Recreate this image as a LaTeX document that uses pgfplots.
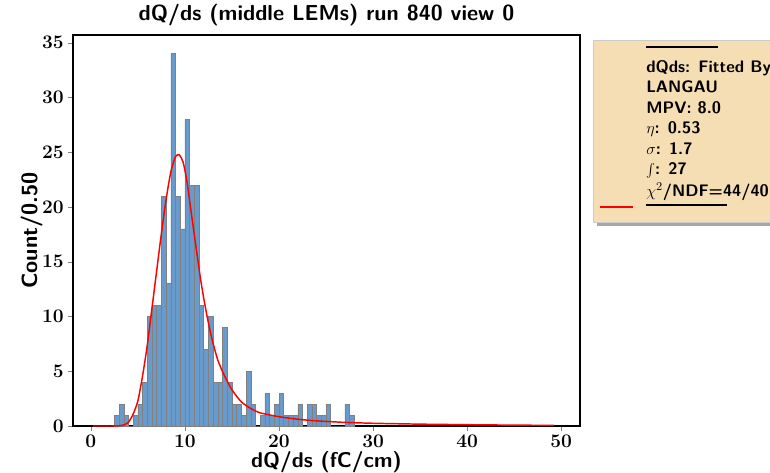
\documentclass[border=0pt]{standalone}
\usepackage{pgfplots}
\pgfplotsset{compat=1.18}
\definecolor{barfill}{RGB}{104,155,204}
\definecolor{baredge}{RGB}{128,128,128}
\definecolor{legfill}{RGB}{245,222,179}
\begin{document}
\begin{tikzpicture}
\begin{axis}[
  at={(54.75pt,34.5pt)}, anchor=south west,
  scale only axis, width=380.25pt, height=293.25pt,
  xmin=-1.9, xmax=52, ymin=0, ymax=35.7,
  xtick={0,10,20,30,40,50}, ytick={0,5,10,15,20,25,30,35},
  tick align=outside, xtick pos=bottom, ytick pos=left,
  major tick length=3.5pt,
  axis line style={black, line width=0.8pt},
  ticklabel style={font=\boldmath\fontsize{13.5}{15}\selectfont},
  title={dQ/ds (middle LEMs) run 840 view 0},
  title style={font=\sffamily\bfseries\fontsize{16.3}{18}\selectfont, at={(0.5,1)}, anchor=south, yshift=-3pt},
  xlabel={dQ/ds (fC/cm)},
  xlabel style={font=\sffamily\bfseries\fontsize{16}{18}\selectfont, at={(axis description cs:0.5,0)}, anchor=north, yshift=-15.5pt},
  ylabel={Count/0.50},
  ylabel style={font=\sffamily\bfseries\fontsize{16.5}{18}\selectfont, at={(axis description cs:0,0.5)}, anchor=south, inner sep=0pt, yshift=22.5pt},
]
\addplot[ybar interval, fill=barfill, draw=baredge, line width=0.4pt] coordinates {
(2.5,1)(3.0,2)(3.5,1)(4.0,0)(4.5,1)(5.0,2)(5.5,4)(6.0,10)(6.5,11)(7.0,11)
(7.5,21)(8.0,13)(8.5,34)(9.0,21)(9.5,18)(10.0,28)(10.5,22)(11.0,22)(11.5,11)(12.0,7)
(12.5,10)(13.0,4)(13.5,4)(14.0,9)(14.5,4)(15.0,2)(15.5,2)(16.0,1)(16.5,5)(17.0,2)
(17.5,0)(18.0,1)(18.5,3)(19.0,1)(19.5,2)(20.0,3)(20.5,1)(21.0,1)(21.5,1)(22.0,2)
(22.5,0)(23.0,2)(23.5,2)(24.0,1)(24.5,1)(25.0,2)(25.5,0)(26.0,0)(26.5,0)(27.0,2)
(27.5,1)(28.0,1)
};
\addplot[red, line width=1.1pt, smooth, tension=0.4, mark=none] coordinates {
(0.25,0)(1,0)(2,0.0)(3,0.02)(3.5,0.1)(4,0.35)(4.5,1.1)(5,2.3)(5.5,4.6)(6,7.4)
(6.5,10.8)(7,14.2)(7.5,17.6)(8,20.7)(8.5,23.2)(9,24.6)(9.4,24.75)(9.8,24.1)(10.2,22.4)
(10.7,19.3)(11.2,16.2)(11.7,13.2)(12.2,10.7)(12.8,8.2)(13.5,6.0)(14.2,4.6)(15,3.3)
(16,2.2)(17,1.6)(18,1.2)(20,0.85)(22,0.62)(24,0.47)(27,0.33)(30,0.25)(35,0.17)
(40,0.12)(45,0.08)(49.25,0.06)
};
\end{axis}
\begin{scope}[x=0.75pt, y=-0.75pt, shift={(0pt,354pt)}]
  \fill[black!35] (597,44) rectangle (775,226);
  \filldraw[fill=legfill, draw=black!20, line width=0.6pt] (593,40) rectangle (771,222);
  \draw[black, line width=0.8pt] (646,47) -- (718,47);
  \begin{scope}[every node/.style={anchor=base west, inner sep=0pt, font=\sffamily\bfseries\fontsize{12.5}{14}\selectfont}]
    \node at (646,73) {dQds: Fitted By};
    \node at (646,93) {LANGAU};
    \node at (646,114) {MPV: 8.0};
    \node at (646,134) {$\eta$: 0.53};
    \node at (646,155) {$\sigma$: 1.7};
    \node at (646,175) {$\int$: 27};
    \node at (646,196) {$\chi^2$/NDF=44/40};
  \end{scope}
  \draw[black, line width=0.8pt] (646,205) -- (727,205);
  \draw[red, line width=1.1pt] (600,207) -- (633,207);
\end{scope}
\pgfresetboundingbox
\useasboundingbox (0,0) rectangle (577.5pt,354pt);
\end{tikzpicture}
\end{document}
